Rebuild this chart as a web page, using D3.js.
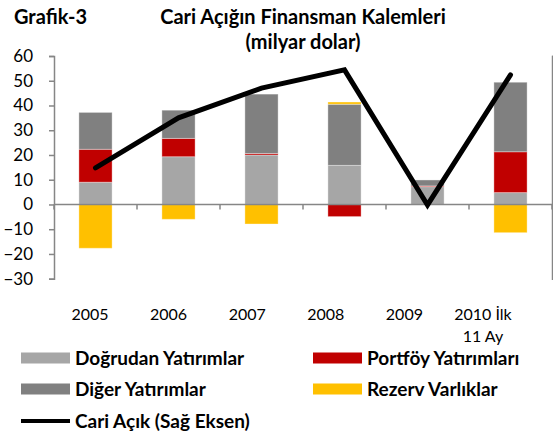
<!DOCTYPE html>
<html><head><meta charset="utf-8">
<script src="https://cdn.jsdelivr.net/npm/d3@7"></script>
<style>
html,body{margin:0;padding:0;background:#fff;}
svg{display:block;font-family:Lato, "Open Sans", sans-serif;}
</style></head>
<body><svg id="c" width="553" height="436"></svg>
<script>
const categories = ["2005","2006","2007","2008","2009","2010"];
const tickLabels = [["2005"],["2006"],["2007"],["2008"],["2009"],["2010 İlk","11 Ay"]];
const seriesNames = ["Doğrudan Yatırımlar","Portföy Yatırımları","Diğer Yatırımlar","Rezerv Varlıklar"];
const dogrudan = [9.0, 19.3, 20.0, 15.8, 7.2, 4.8];
const portfoy  = [13.3, 7.4, 0.6, -4.9, 0.3, 16.5];
const diger    = [14.9, 11.4, 24.0, 24.7, 2.4, 28.1];
const rezerv   = [-17.7, -6.0, -7.9, 0.9, 0, -11.4];
const cariAcik = [22.4, 32.5, 38.5, 42.2, 14.9, 41.2];
const leftTicks = [-30,-20,-10,0,10,20,30,40,50,60];
const colors = ["#A6A6A6","#C00000","#808080","#FFC000"];
const axisColor = "#868686";

const svg = d3.select("#c");
const L = 54, R = 552, T = 56, B = 278.7;

const x = d3.scaleBand().domain(categories).range([L, R]).paddingInner(0.6).paddingOuter(0.3);
const xLab = d3.scalePoint().domain(categories).range([90, 483]);
const y = d3.scaleLinear().domain([-30, 60]).range([B, T]);
const y2 = d3.scaleLinear().domain([0, 45]).range([B, T]);

const rows = categories.map((c, i) => ({cat: c, s0: dogrudan[i], s1: portfoy[i], s2: diger[i], s3: rezerv[i]}));
const stack = d3.stack().keys(["s0","s1","s2","s3"]).offset(d3.stackOffsetDiverging);
const layers = stack(rows);

svg.append("g").selectAll("g").data(layers).join("g")
  .attr("fill", (d, i) => colors[i])
  .selectAll("rect").data(d => d).join("rect")
  .attr("x", d => x(d.data.cat))
  .attr("width", x.bandwidth())
  .attr("y", d => y(Math.max(d[0], d[1])))
  .attr("height", d => Math.abs(y(d[0]) - y(d[1])))
  .attr("stroke", "rgba(255,255,255,0.35)")
  .attr("stroke-width", 1);

const gl = svg.append("g").attr("transform", `translate(${L},0)`)
  .call(d3.axisLeft(y).tickValues(leftTicks).tickSize(5).tickSizeOuter(5));
gl.select(".domain").attr("stroke", axisColor).attr("stroke-width", 1.5);
gl.selectAll(".tick line").attr("stroke", axisColor).attr("stroke-width", 1.5);
gl.selectAll(".tick text").attr("x", -21).attr("font-size", 17).attr("fill", "#000")
  .attr("font-family", "Lato, sans-serif");

const gr = svg.append("g").attr("transform", `translate(${R},0)`)
  .call(d3.axisRight(y2).ticks(9).tickSize(5).tickFormat(() => ""));
gr.select(".domain").attr("stroke", axisColor).attr("stroke-width", 1.5);
gr.selectAll(".tick line").attr("stroke", axisColor).attr("stroke-width", 1.5);

svg.append("line").attr("x1", L).attr("x2", R).attr("y1", y(0)).attr("y2", y(0))
  .attr("stroke", axisColor).attr("stroke-width", 1.5);
const bounds = categories.map(c => x(c) - x.step() * x.paddingInner() / 2).concat([R]);
svg.append("g").selectAll("line").data(bounds).join("line")
  .attr("x1", d => d).attr("x2", d => d)
  .attr("y1", y(0)).attr("y2", y(0) + 5)
  .attr("stroke", axisColor).attr("stroke-width", 1.5);

const xl = svg.append("g").selectAll("text").data(categories).join("text")
  .attr("text-anchor", "middle").attr("font-size", 16).attr("fill", "#000");
xl.each(function(c, i) {
  const t = d3.select(this);
  tickLabels[i].forEach((s, j) => {
    t.append("tspan").attr("x", xLab(c)).attr("y", 320 + j * 22).text(s);
  });
});

const line = d3.line().x((d, i) => x(categories[i]) + x.bandwidth() / 2).y(d => y2(d));
svg.append("path").datum(cariAcik).attr("d", line)
  .attr("fill", "none").attr("stroke", "#000").attr("stroke-width", 5)
  .attr("stroke-linejoin", "miter").attr("stroke-linecap", "round");

svg.append("text").attr("x", 14).attr("y", 24).attr("font-size", 20).attr("font-weight", "bold").text("Grafik-3");
svg.append("text").attr("x", 303).attr("y", 24).attr("text-anchor", "middle").attr("font-size", 20).attr("font-weight", "bold").text("Cari Açığın Finansman Kalemleri");
svg.append("text").attr("x", 303).attr("y", 49).attr("text-anchor", "middle").attr("font-size", 20).attr("font-weight", "bold").text("(milyar dolar)");

const legendItems = [
  {name: seriesNames[0], color: colors[0], x: 21, y: 358, type: "rect"},
  {name: seriesNames[1], color: colors[1], x: 313, y: 358, type: "rect"},
  {name: seriesNames[2], color: colors[2], x: 21, y: 389, type: "rect"},
  {name: seriesNames[3], color: colors[3], x: 313, y: 389, type: "rect"},
  {name: "Cari Açık (Sağ Eksen)", color: "#000", x: 21, y: 421, type: "line"}
];
const lg = svg.append("g").selectAll("g").data(legendItems).join("g")
  .attr("transform", d => `translate(${d.x},${d.y})`);
lg.filter(d => d.type === "rect").append("rect")
  .attr("x", 0).attr("y", -5.5).attr("width", 49).attr("height", 11).attr("fill", d => d.color);
lg.filter(d => d.type === "line").append("line")
  .attr("x1", 0).attr("x2", 49).attr("y1", 0).attr("y2", 0).attr("stroke", "#000").attr("stroke-width", 4);
lg.append("text").attr("x", 54).attr("y", 6.5).attr("font-size", 19).attr("font-weight", "bold").text(d => d.name);
</script></body></html>
